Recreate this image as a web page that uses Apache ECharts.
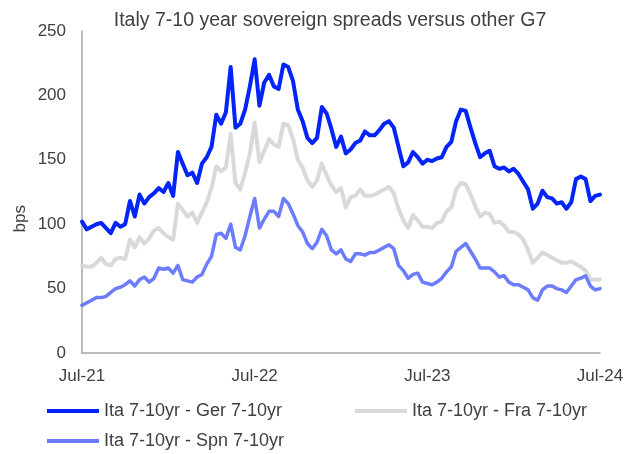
<!DOCTYPE html>
<html>
<head>
<meta charset="utf-8">
<script src="https://cdn.jsdelivr.net/npm/echarts@6/dist/echarts.min.js"></script>
<style>
html,body{margin:0;padding:0;background:#fff;}
#chart{width:639px;height:454px;}
</style>
</head>
<body>
<div id="chart"></div>
<script>
// ~10-day observations, Jul-2021 .. Jul-2024 (days 1, 11, 21 of each month)
const startYear = 2021, startMonth = 6; // July (0-based)
const nPoints = 109;
const dates = [];
for (let i = 0; i < nPoints; i++) {
  const m = startMonth + Math.floor(i / 3);
  const y = startYear + Math.floor(m / 12);
  const mm = (m % 12) + 1;
  const d = [1, 11, 21][i % 3];
  dates.push(y + '-' + String(mm).padStart(2, '0') + '-' + String(d).padStart(2, '0'));
}

const xTickLabels = ['Jul-21', 'Jul-22', 'Jul-23', 'Jul-24'];
const yTicks = [0, 50, 100, 150, 200, 250];

const seriesNames = ['Ita 7-10yr - Ger 7-10yr', 'Ita 7-10yr - Fra 7-10yr', 'Ita 7-10yr - Spn 7-10yr'];

const itaGer = [
  102, 96, 98, 100, 101, 97, 93, 101, 98, 100,
  118, 106, 123, 116, 121, 124, 128, 125, 132, 122,
  156, 147, 138, 140, 132, 147, 152, 160, 185, 178,
  187, 222, 175, 178, 189, 207, 228, 192, 210, 216,
  207, 205, 224, 222, 211, 189, 180, 167, 163, 167,
  191, 186, 174, 160, 168, 155, 158, 163, 165, 172,
  169, 169, 173, 178, 180, 175, 160, 145, 148, 156,
  152, 147, 150, 149, 151, 152, 160, 164, 180, 189,
  188, 175, 163, 152, 155, 157, 145, 143, 144, 141,
  143, 139, 133, 127, 112, 116, 126, 121, 120, 116,
  117, 112, 117, 135, 137, 135, 118, 122, 123
];

const itaFra = [
  68, 67, 67, 70, 74, 69, 68, 73, 74, 73,
  88, 82, 90, 85, 89, 95, 97, 93, 90, 88,
  116, 111, 106, 109, 101, 109, 117, 128, 145, 141,
  144, 170, 132, 127, 140, 155, 179, 148, 157, 166,
  162, 160, 178, 177, 166, 150, 144, 134, 129, 134,
  147, 138, 130, 125, 128, 113, 121, 122, 127, 122,
  122, 123, 125, 127, 129, 124, 112, 103, 97, 107,
  103, 98, 98, 97, 101, 102, 110, 113, 127, 132,
  131, 123, 114, 106, 109, 108, 101, 102, 99, 94,
  94, 92, 88, 80, 70, 74, 78, 76, 74, 72,
  70, 70, 71, 69, 67, 64, 57, 57, 57
];

const itaSpn = [
  37, 39, 41, 43, 43, 44, 47, 50, 51, 53,
  56, 52, 57, 59, 55, 58, 66, 65, 66, 62,
  68, 57, 56, 55, 59, 61, 69, 75, 92, 93,
  89, 100, 82, 80, 91, 106, 120, 97, 104, 110,
  110, 106, 120, 116, 108, 99, 94, 85, 81, 86,
  96, 91, 80, 77, 80, 73, 71, 77, 77, 76,
  78, 78, 80, 82, 84, 81, 68, 64, 58, 61,
  62, 55, 54, 53, 55, 58, 63, 67, 79, 82,
  85, 79, 73, 66, 66, 66, 63, 59, 60, 55,
  53, 53, 51, 49, 43, 41, 49, 52, 52, 50,
  49, 47, 52, 57, 58, 60, 52, 49, 50
];

const colors = ['#0224f8', '#d9d9d9', '#6b7cff'];
const FONT = '"Liberation Sans", Arial, sans-serif';
const TXT = '#404040';

const chart = echarts.init(document.getElementById('chart'), null, {renderer: 'canvas'});
const mk = (name, data, color, w) => ({
  name: name, type: 'line', data: data, symbol: 'none', showSymbol: false,
  smooth: false, lineStyle: {color: color, width: w, join: 'round', cap: 'round'}, itemStyle: {color: color},
  emphasis: {disabled: true}, animation: false
});

const legendText = {fontFamily: FONT, fontSize: 18, color: TXT};

chart.setOption({
  animation: false,
  backgroundColor: '#ffffff',
  title: {
    text: 'Italy 7-10 year sovereign spreads versus other G7',
    left: 325, top: 6, textAlign: 'center',
    textStyle: {fontFamily: FONT, fontSize: 19.5, fontWeight: 'normal', color: TXT}
  },
  grid: {left: 82, right: 39, top: 31, bottom: 101, containLabel: false},
  legend: [
    {
      data: [seriesNames[0], seriesNames[1]],
      left: 47, top: 402, orient: 'horizontal', padding: 0,
      icon: 'rect', itemWidth: 52, itemHeight: 4, itemGap: 73,
      textStyle: legendText, selectedMode: false
    },
    {
      data: [seriesNames[2]],
      left: 47, top: 432, orient: 'horizontal', padding: 0,
      icon: 'rect', itemWidth: 52, itemHeight: 4,
      textStyle: legendText, selectedMode: false
    }
  ],
  graphic: [{
    type: 'text', left: 12, top: 205, rotation: Math.PI / 2,
    style: {text: 'bps', fontFamily: FONT, fontSize: 17, fill: TXT}
  }],
  xAxis: {
    type: 'category', data: dates, boundaryGap: false,
    axisLine: {show: true, lineStyle: {color: '#a6a6a6', width: 1.5}},
    axisTick: {show: false},
    axisLabel: {
      interval: 35, showMaxLabel: true, margin: 15,
      fontFamily: FONT, fontSize: 17, color: TXT,
      formatter: function (v, idx) { return xTickLabels[Math.round(idx / 36)] || ''; }
    },
    splitLine: {show: false}
  },
  yAxis: {
    type: 'value', min: yTicks[0], max: yTicks[yTicks.length - 1], interval: 50,
    axisLine: {show: true, lineStyle: {color: '#a6a6a6', width: 1.5}},
    axisTick: {show: false},
    axisLabel: {fontFamily: FONT, fontSize: 17, color: TXT, margin: 16},
    splitLine: {show: false}
  },
  series: [
    mk(seriesNames[0], itaGer, colors[0], 4),
    mk(seriesNames[1], itaFra, colors[1], 4),
    mk(seriesNames[2], itaSpn, colors[2], 3.5)
  ]
});
</script>
</body>
</html>
